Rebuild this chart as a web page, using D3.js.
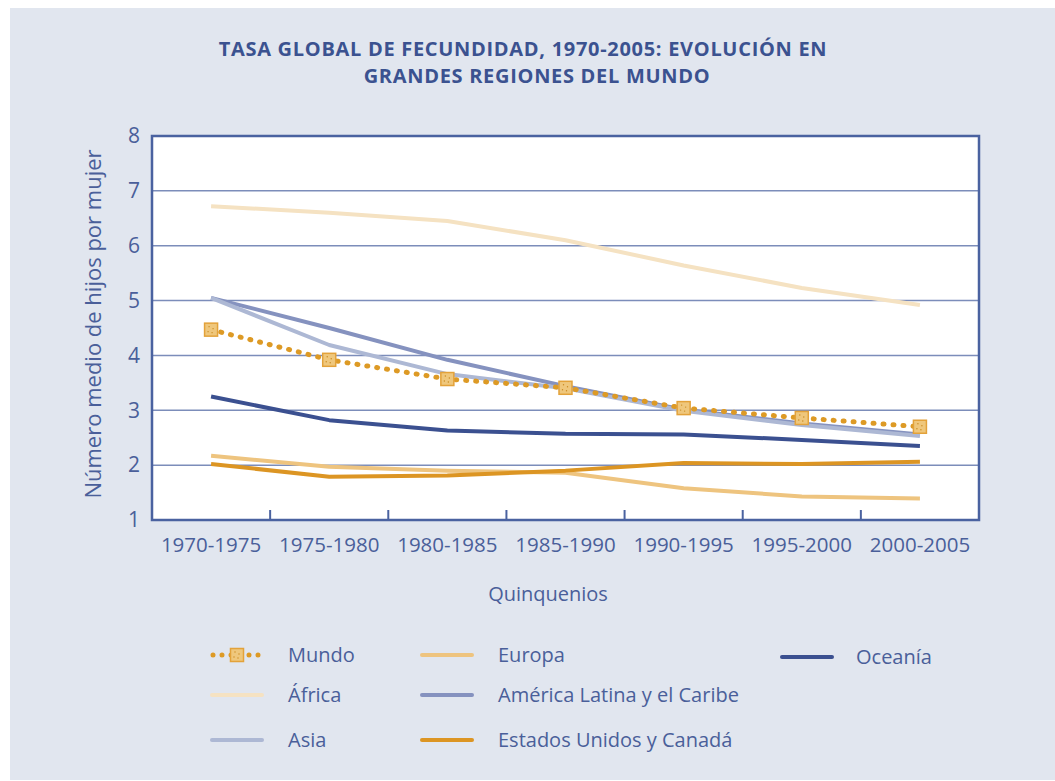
<!DOCTYPE html>
<html>
<head>
<meta charset="utf-8">
<script src="https://cdn.jsdelivr.net/npm/d3@7"></script>
<style>
  body { margin: 0; background: #ffffff; }
  svg text { font-family: "Open Sans", sans-serif; }
</style>
</head>
<body>
<div id="chart"></div>
<script>
// Quinquenios (categorías del eje X)
const periods = ['1970-1975', '1975-1980', '1980-1985', '1985-1990', '1990-1995', '1995-2000', '2000-2005'];

// Tasa global de fecundidad por región
const mundo     = [4.47, 3.92, 3.57, 3.41, 3.04, 2.86, 2.70];
const africa    = [6.72, 6.60, 6.45, 6.10, 5.64, 5.23, 4.92];
const asia      = [5.05, 4.19, 3.66, 3.40, 2.99, 2.73, 2.53];
const europa    = [2.17, 1.97, 1.90, 1.86, 1.58, 1.43, 1.39];
const latam     = [5.05, 4.50, 3.92, 3.44, 3.01, 2.76, 2.56];
const eeuuCan   = [2.02, 1.79, 1.81, 1.90, 2.04, 2.02, 2.06];
const oceania   = [3.25, 2.82, 2.63, 2.57, 2.56, 2.46, 2.35];

const yTicks = [1, 2, 3, 4, 5, 6, 7, 8];

const series = [
  { name: 'África', values: africa, color: '#f5e2c2' },
  { name: 'Europa', values: europa, color: '#eec47f' },
  { name: 'Estados Unidos y Canadá', values: eeuuCan, color: '#dc9523' },
  { name: 'Oceanía', values: oceania, color: '#3b5090' },
  { name: 'América Latina y el Caribe', values: latam, color: '#8592bf' },
  { name: 'Asia', values: asia, color: '#adb8d4' },
  { name: 'Mundo', values: mundo, color: '#dd9a25', dotted: true }
];

const W = 1055, H = 781;
const plot = { left: 152, right: 979, top: 136, bottom: 520 };
const textColor = '#4a5f9a';

const svg = d3.select('#chart').append('svg')
  .attr('width', W)
  .attr('height', H);

// panel de fondo
svg.append('rect')
  .attr('x', 10).attr('y', 8)
  .attr('width', W - 10).attr('height', 772)
  .attr('fill', '#e1e6ef');

// título (dos líneas)
const titleLines = [
  { text: 'TASA GLOBAL DE FECUNDIDAD, 1970-2005: EVOLUCIÓN EN', x: 523, y: 56 },
  { text: 'GRANDES REGIONES DEL MUNDO', x: 537, y: 83 }
];
svg.append('g')
  .selectAll('text')
  .data(titleLines)
  .enter().append('text')
  .attr('x', d => d.x)
  .attr('y', d => d.y)
  .attr('text-anchor', 'middle')
  .attr('fill', '#3b5290')
  .style('font-weight', 700)
  .style('font-size', '20px')
  .style('letter-spacing', '0.7px')
  .text(d => d.text);

const x = d3.scaleBand()
  .domain(periods)
  .range([plot.left, plot.right]);

const y = d3.scaleLinear()
  .domain([1, 8])
  .range([plot.bottom, plot.top]);

// área del gráfico
svg.append('rect')
  .attr('x', plot.left).attr('y', plot.top)
  .attr('width', plot.right - plot.left).attr('height', plot.bottom - plot.top)
  .attr('fill', '#ffffff');

// líneas de cuadrícula
svg.append('g')
  .selectAll('line')
  .data(yTicks.filter(d => d > 1 && d < 8))
  .enter().append('line')
  .attr('x1', plot.left).attr('x2', plot.right)
  .attr('y1', d => y(d)).attr('y2', d => y(d))
  .attr('stroke', '#7c8dba')
  .attr('stroke-width', 1.5);

// marcas del eje X (hacia dentro)
svg.append('g')
  .selectAll('line')
  .data(periods.slice(1))
  .enter().append('line')
  .attr('x1', d => x(d)).attr('x2', d => x(d))
  .attr('y1', plot.bottom).attr('y2', plot.bottom - 10)
  .attr('stroke', '#4a62a0')
  .attr('stroke-width', 2);

// etiquetas de ejes
const yAxis = d3.axisLeft(y).tickValues(yTicks).tickFormat(d3.format('d')).tickSize(0).tickPadding(12);
svg.append('g')
  .attr('transform', `translate(${plot.left},0)`)
  .call(yAxis)
  .call(g => g.select('.domain').remove())
  .selectAll('text')
  .attr('fill', textColor)
  .style('font-size', '21px');

const xAxis = d3.axisBottom(x).tickSize(0).tickPadding(17);
svg.append('g')
  .attr('transform', `translate(0,${plot.bottom})`)
  .call(xAxis)
  .call(g => g.select('.domain').remove())
  .selectAll('text')
  .attr('fill', textColor)
  .style('font-size', '20.5px');

svg.append('text')
  .attr('transform', `translate(101,${(plot.top + plot.bottom) / 2 - 4}) rotate(-90)`)
  .attr('text-anchor', 'middle')
  .attr('fill', textColor)
  .style('font-size', '22px')
  .text('Número medio de hijos por mujer');

svg.append('text')
  .attr('x', 548).attr('y', 601)
  .attr('text-anchor', 'middle')
  .attr('fill', textColor)
  .style('font-size', '20px')
  .text('Quinquenios');

// series
const line = d3.line()
  .x((d, i) => x(periods[i]) + x.bandwidth() / 2)
  .y(d => y(d));

const linesG = svg.append('g');
series.forEach(s => {
  const p = linesG.append('path')
    .datum(s.values)
    .attr('d', line)
    .attr('fill', 'none')
    .attr('stroke', s.color)
    .attr('stroke-width', 4)
    .attr('stroke-linejoin', 'round');
  if (s.dotted) {
    p.attr('stroke-dasharray', '1 9')
      .attr('stroke-linecap', 'round')
      .attr('stroke-width', 5);
  }
});

// marcador cuadrado punteado
function drawMarker(g, cx, cy) {
  const m = g.append('g').attr('transform', `translate(${cx},${cy})`);
  m.append('rect')
    .attr('x', -6.5).attr('y', -6.5)
    .attr('width', 13).attr('height', 13)
    .attr('fill', '#efc77c')
    .attr('stroke', '#e3a23a')
    .attr('stroke-width', 1.5);
  [[-2, -3], [2, -1], [-3, 2], [1, 3]].forEach(([dx, dy]) => {
    m.append('circle').attr('cx', dx).attr('cy', dy).attr('r', 0.7).attr('fill', '#c98a20');
  });
}

const markG = svg.append('g');
mundo.forEach((v, i) => drawMarker(markG, x(periods[i]) + x.bandwidth() / 2, y(v)));

// marco
svg.append('rect')
  .attr('x', plot.left).attr('y', plot.top)
  .attr('width', plot.right - plot.left).attr('height', plot.bottom - plot.top)
  .attr('fill', 'none')
  .attr('stroke', '#4a62a0')
  .attr('stroke-width', 2.5);

// leyenda
const legendItems = [
  { name: 'Mundo', col: 0, row: 0 },
  { name: 'África', col: 0, row: 1 },
  { name: 'Asia', col: 0, row: 2 },
  { name: 'Europa', col: 1, row: 0 },
  { name: 'América Latina y el Caribe', col: 1, row: 1 },
  { name: 'Estados Unidos y Canadá', col: 1, row: 2 },
  { name: 'Oceanía', col: 2, row: 0 }
];
const colX = [212, 422, 782];
const rowY = [655, 695, 740];

const legend = svg.append('g');
legendItems.forEach(it => {
  const s = series.find(d => d.name === it.name);
  const lx = colX[it.col];
  const ly = rowY[it.row] + (it.col === 2 ? 2 : 0);
  const l = legend.append('line')
    .attr('x1', lx).attr('x2', lx + 50)
    .attr('y1', ly).attr('y2', ly)
    .attr('stroke', s.color)
    .attr('stroke-width', 4)
    .attr('stroke-linecap', 'round');
  if (s.dotted) {
    l.attr('stroke-dasharray', '0 9').attr('stroke-width', 5)
      .attr('x1', lx + 1).attr('x2', lx + 49);
    drawMarker(legend, lx + 25, ly);
  }
  legend.append('text')
    .attr('x', lx + (it.col === 2 ? 74 : 76))
    .attr('y', ly + 7)
    .attr('fill', textColor)
    .style('font-size', '20px')
    .text(it.name);
});
</script>
</body>
</html>
